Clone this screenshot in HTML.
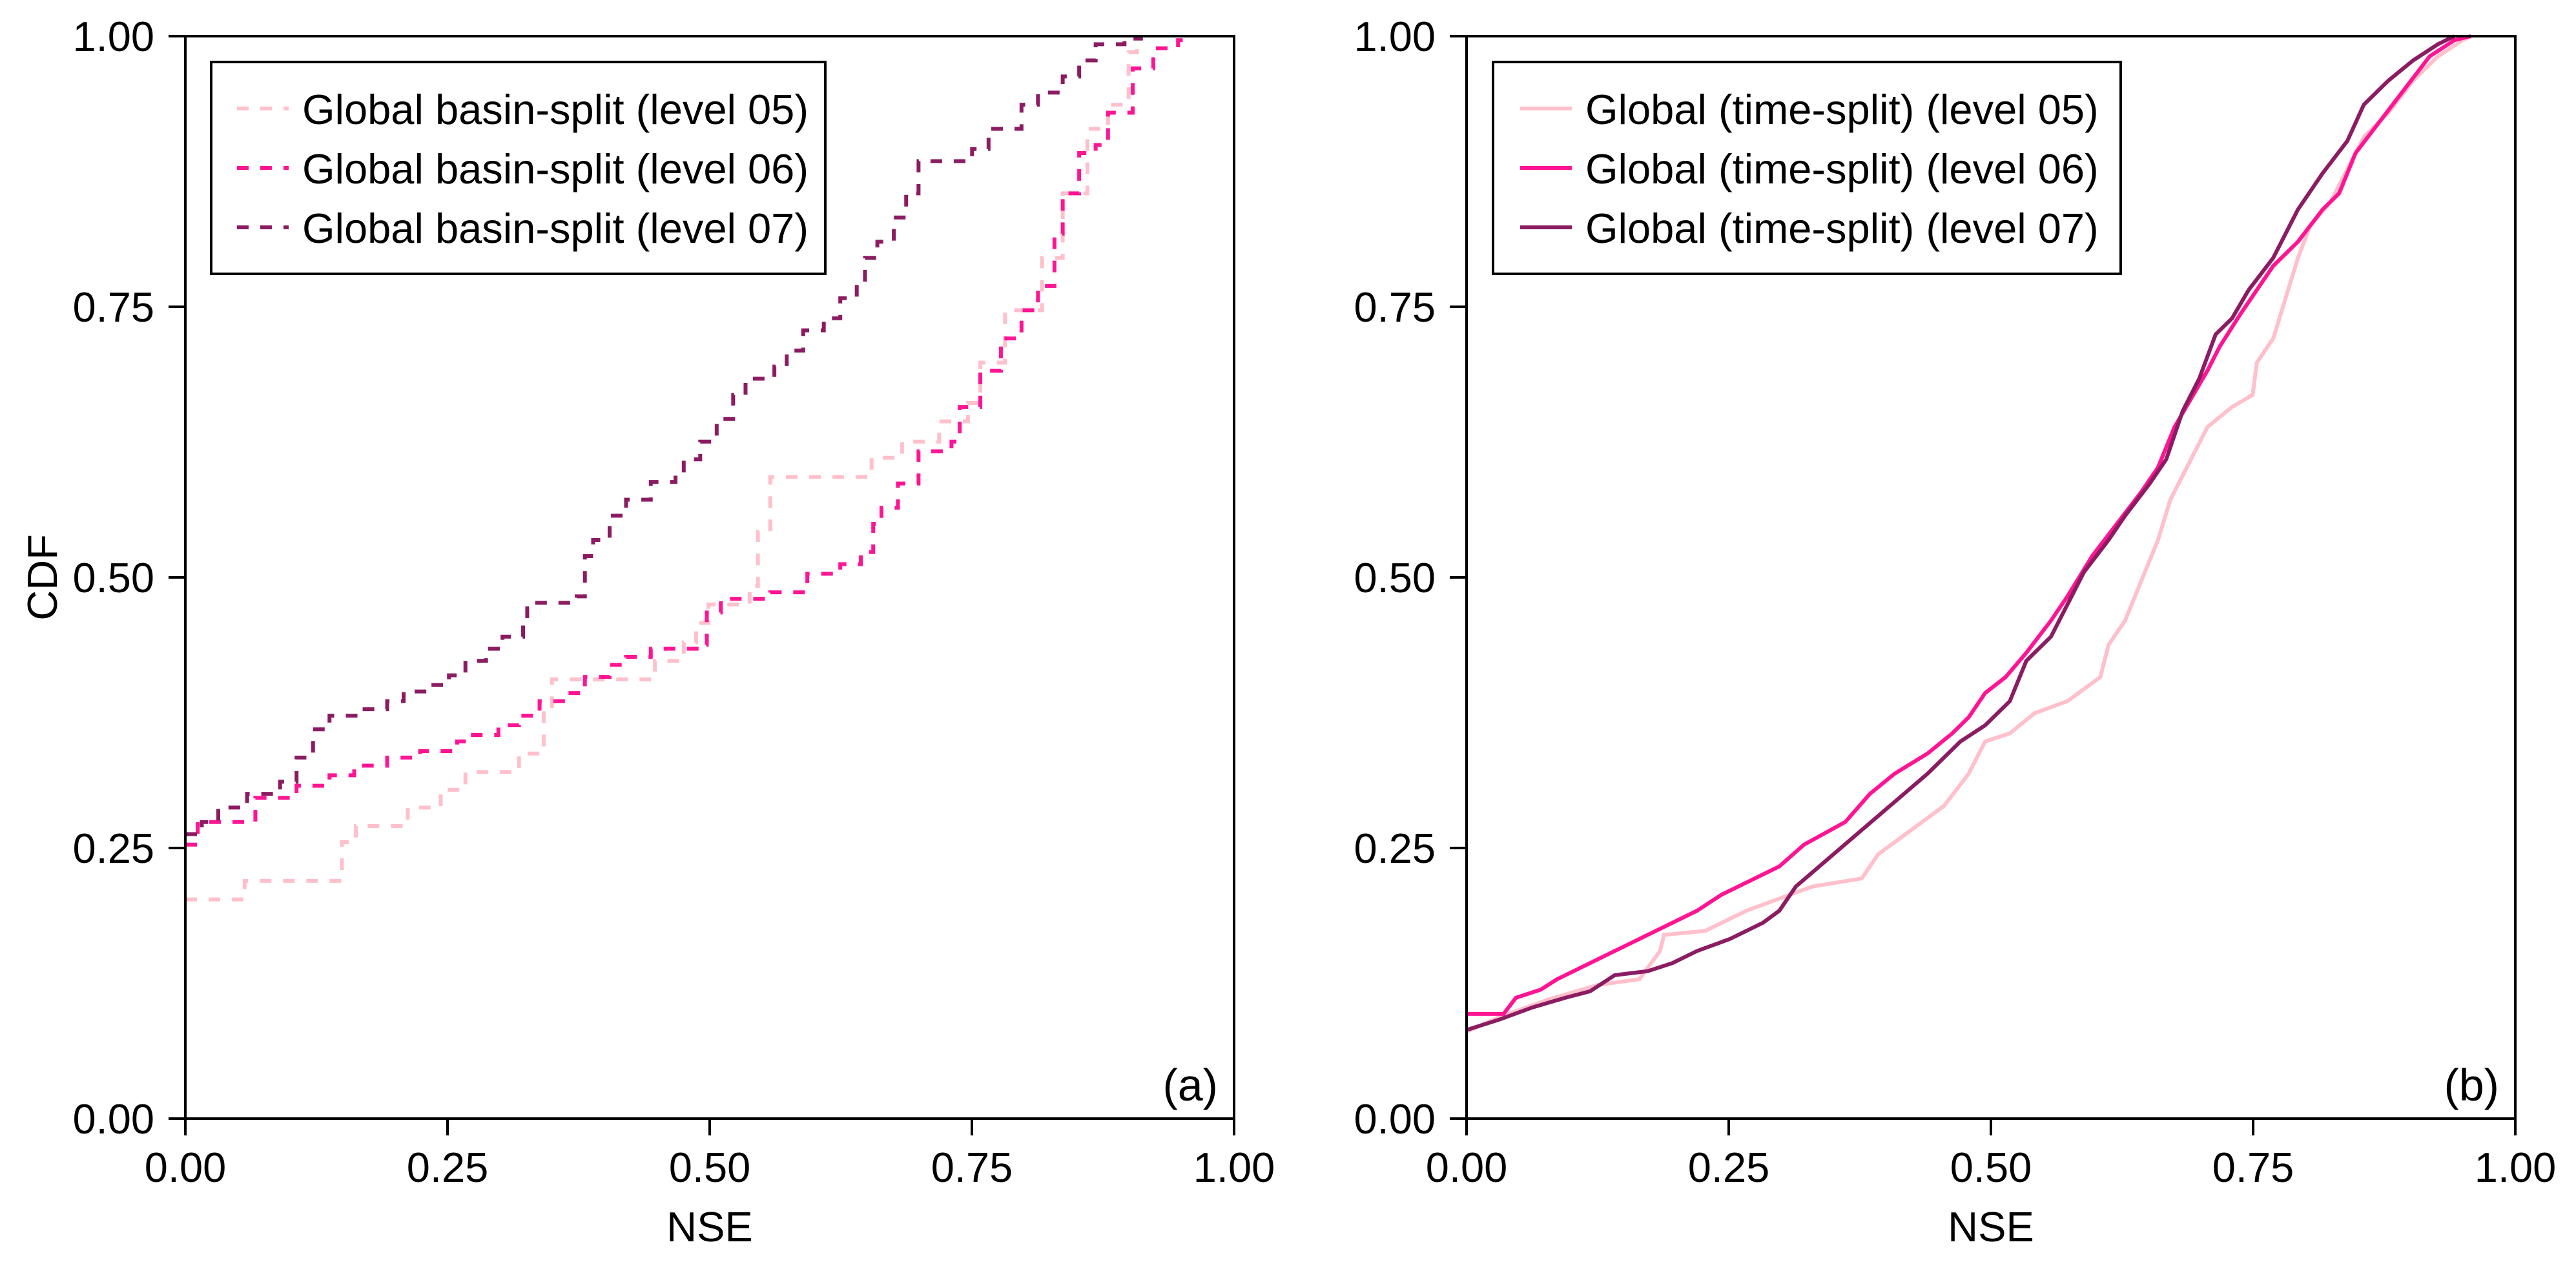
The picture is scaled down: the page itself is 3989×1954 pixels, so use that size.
<!DOCTYPE html>
<html><head><meta charset="utf-8"><style>
html,body{margin:0;padding:0;background:#fff}
svg{display:block}
text{font-family:"Liberation Sans",sans-serif;font-size:65px;fill:#000}
</style></head><body>
<svg width="3989" height="1954" viewBox="0 0 3989 1954" xmlns="http://www.w3.org/2000/svg">
<!-- Panel A -->
<g transform="translate(287,56) scale(1.2757,1.248) translate(-225,-45)" fill="none" stroke-width="6" stroke-dasharray="18,18">
<path vector-effect="non-scaling-stroke" stroke="#ffc0cb" d="M225,1116 H297 V1093 H415 V1045 H432 V1025 H495 V1002 H535 V980 H565 V958 H630 V935 H660 V880 H670 V843 H795 V820 H830 V797 H845 V773 H860 V750 H910 V727 H920 V660 H935 V592 H1058 V568 H1095 V548 H1140 V523 H1175 V500 H1190 V450 H1220 V385 H1265 V320 H1290 V240 H1320 V160 H1345 V130 H1370 V65 H1380 V45"/>
<path vector-effect="non-scaling-stroke" stroke="#ff1493" d="M225,1048 H240 V1020 H310 V990 H360 V975 H400 V962 H430 V950 H470 V940 H510 V932 H555 V920 H570 V912 H605 V900 H630 V888 H655 V870 H690 V860 H710 V840 H740 V825 H760 V815 H790 V805 H855 V800 H858 V760 H875 V743 H935 V735 H980 V712 H1020 V700 H1045 V685 H1060 V650 H1070 V630 H1090 V600 H1115 V560 H1155 V548 H1165 V505 H1190 V460 H1215 V420 H1240 V385 H1260 V355 H1280 V290 H1290 V240 H1310 V190 H1330 V180 H1345 V140 H1375 V85 H1400 V60 H1430 V50 H1440 V45"/>
<path vector-effect="non-scaling-stroke" stroke="#8b1c62" d="M225,1035 H245 V1020 H265 V1002 H300 V985 H340 V970 H360 V940 H380 V905 H400 V888 H440 V880 H470 V870 H490 V858 H520 V850 H545 V838 H565 V820 H590 V805 H610 V790 H635 V770 H640 V748 H700 V740 H710 V690 H720 V670 H740 V640 H760 V620 H790 V598 H820 V590 H830 V570 H850 V548 H870 V520 H890 V490 H905 V470 H940 V455 H955 V435 H975 V410 H1000 V395 H1020 V370 H1040 V350 H1050 V320 H1065 V300 H1085 V270 H1100 V240 H1115 V200 H1180 V185 H1200 V160 H1240 V130 H1260 V115 H1290 V95 H1310 V75 H1330 V55 H1365 V48 H1385 V45"/>
</g>
<g stroke="#000" stroke-width="4" fill="none">
<rect x="287" y="56" width="1624" height="1676"/>
<path d="M261,56H287M261,475H287M261,894H287M261,1313H287M261,1732H287M287,1732V1758M693,1732V1758M1099,1732V1758M1505,1732V1758M1911,1732V1758"/>
<rect x="327" y="96" width="951" height="328" fill="#fff"/>
</g>
<g stroke-width="6" stroke-dasharray="18,18">
<path d="M367,168H447" stroke="#ffc0cb"/>
<path d="M367,260H447" stroke="#ff1493"/>
<path d="M367,352H447" stroke="#8b1c62"/>
</g>
<text x="468" y="192">Global basin-split (level 05)</text>
<text x="468" y="284">Global basin-split (level 06)</text>
<text x="468" y="376">Global basin-split (level 07)</text>
<g text-anchor="end">
<text x="239" y="79">1.00</text><text x="239" y="498">0.75</text><text x="239" y="917">0.50</text><text x="239" y="1336">0.25</text><text x="239" y="1755">0.00</text>
</g>
<g text-anchor="middle">
<text x="287" y="1830">0.00</text><text x="693" y="1830">0.25</text><text x="1099" y="1830">0.50</text><text x="1505" y="1830">0.75</text><text x="1911" y="1830">1.00</text>
<text x="1099" y="1922">NSE</text>
<text transform="translate(88,894) rotate(-90)">CDF</text>
</g>
<text x="1886" y="1704" text-anchor="end" style="font-size:70px">(a)</text>

<!-- Panel B -->
<g transform="translate(2271,56) scale(1.2747,1.248) translate(-220,-45)" fill="none" stroke-width="6" stroke-linejoin="miter">
<polyline vector-effect="non-scaling-stroke" stroke="#ffc0cb" points="220,1280 260,1262 320,1240 380,1222 430,1215 455,1180 460,1160 510,1155 560,1130 600,1115 640,1100 700,1090 720,1060 760,1030 800,1000 830,960 850,920 880,910 910,885 950,870 990,840 1000,800 1020,770 1040,720 1060,670 1075,620 1100,570 1120,530 1150,505 1175,490 1180,450 1200,420 1215,370 1230,320 1245,280 1270,250 1290,210 1310,170 1340,140 1370,100 1400,70 1430,50 1440,45"/>
<polyline vector-effect="non-scaling-stroke" stroke="#ff1493" points="220,1258 265,1258 280,1238 310,1228 330,1215 370,1195 400,1180 430,1165 460,1150 500,1130 530,1110 560,1095 600,1075 630,1048 680,1020 710,985 740,960 780,935 810,910 830,890 850,860 875,840 900,810 930,770 950,740 980,690 1010,650 1040,610 1060,580 1080,530 1100,495 1120,460 1135,430 1160,390 1180,360 1200,330 1230,300 1260,260 1280,240 1300,190 1330,150 1360,110 1390,70 1420,50 1440,45"/>
<polyline vector-effect="non-scaling-stroke" stroke="#8b1c62" points="220,1278 260,1265 300,1250 340,1238 370,1230 400,1210 440,1205 470,1195 500,1180 540,1165 580,1145 600,1130 620,1100 660,1065 700,1030 740,995 780,960 820,920 850,900 880,870 900,820 930,790 950,750 970,710 1000,670 1020,640 1050,600 1070,570 1090,510 1110,470 1130,415 1150,395 1170,360 1200,320 1230,260 1260,215 1290,175 1310,130 1340,100 1370,75 1400,55 1420,45"/>
</g>
<g stroke="#000" stroke-width="4" fill="none">
<rect x="2271" y="56" width="1624" height="1676"/>
<path d="M2245,56H2271M2245,475H2271M2245,894H2271M2245,1313H2271M2245,1732H2271M2271,1732V1758M2677,1732V1758M3083,1732V1758M3489,1732V1758M3895,1732V1758"/>
<rect x="2312" y="96" width="972" height="328" fill="#fff"/>
</g>
<g stroke-width="6">
<path d="M2354,168H2434" stroke="#ffc0cb"/>
<path d="M2354,260H2434" stroke="#ff1493"/>
<path d="M2354,352H2434" stroke="#8b1c62"/>
</g>
<text x="2455" y="192">Global (time-split) (level 05)</text>
<text x="2455" y="284">Global (time-split) (level 06)</text>
<text x="2455" y="376">Global (time-split) (level 07)</text>
<g text-anchor="end">
<text x="2223" y="79">1.00</text><text x="2223" y="498">0.75</text><text x="2223" y="917">0.50</text><text x="2223" y="1336">0.25</text><text x="2223" y="1755">0.00</text>
</g>
<g text-anchor="middle">
<text x="2271" y="1830">0.00</text><text x="2677" y="1830">0.25</text><text x="3083" y="1830">0.50</text><text x="3489" y="1830">0.75</text><text x="3895" y="1830">1.00</text>
<text x="3083" y="1922">NSE</text>
</g>
<text x="3870" y="1704" text-anchor="end" style="font-size:70px">(b)</text>
</svg>
</body></html>
